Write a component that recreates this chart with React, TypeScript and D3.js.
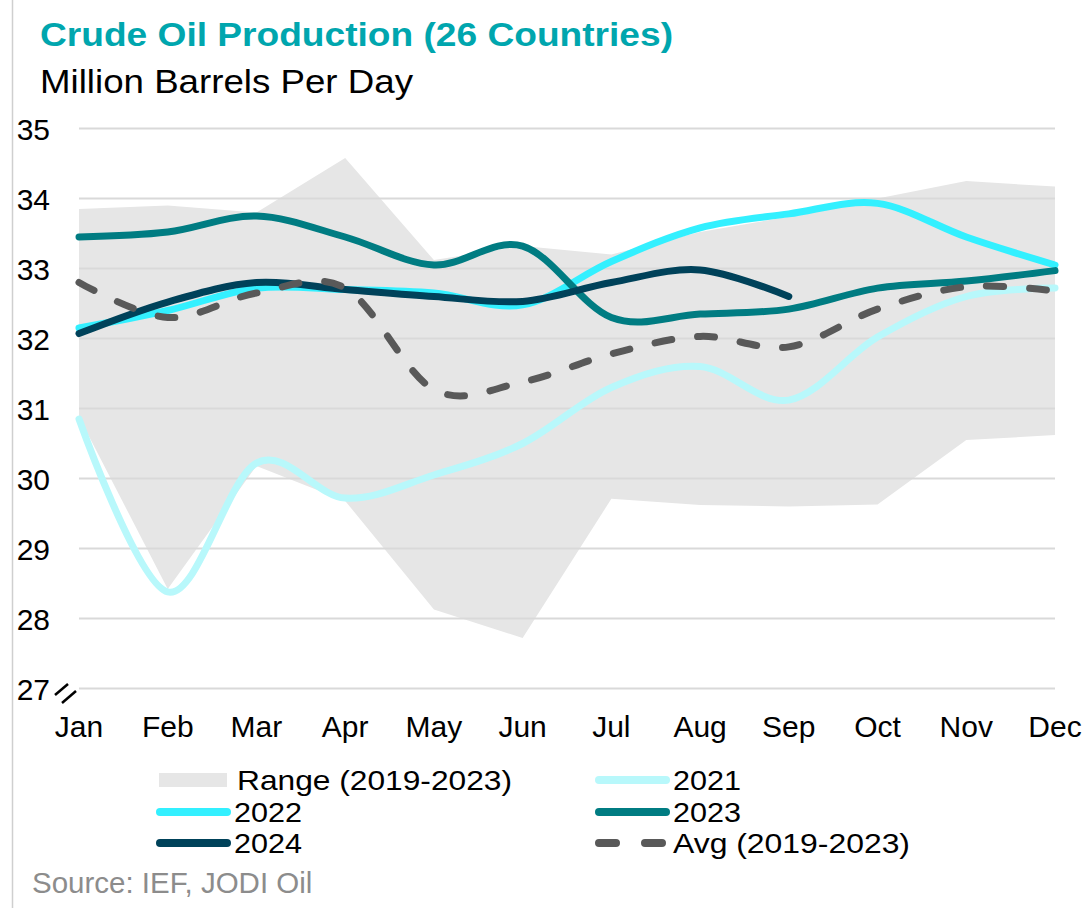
import React from 'react';
import * as d3 from 'd3';

const months = ['Jan', 'Feb', 'Mar', 'Apr', 'May', 'Jun', 'Jul', 'Aug', 'Sep', 'Oct', 'Nov', 'Dec'];
const yTicks = [27, 28, 29, 30, 31, 32, 33, 34, 35];

// range (2019-2023)
const rangeHigh = [33.85, 33.9, 33.8, 34.58, 33.12, 33.32, 33.2, 33.52, 33.74, 34.0, 34.25, 34.17];
const rangeLow = [30.88, 28.42, 30.18, 29.68, 28.13, 27.72, 29.71, 29.62, 29.6, 29.63, 30.55, 30.62];

const y2021 = [30.85, 28.38, 30.22, 29.72, 30.05, 30.5, 31.3, 31.6, 31.12, 32.02, 32.6, 32.72];
const y2022 = [32.15, 32.4, 32.72, 32.7, 32.65, 32.48, 33.1, 33.58, 33.78, 33.93, 33.45, 33.05];
const y2023 = [33.45, 33.52, 33.75, 33.45, 33.05, 33.32, 32.3, 32.35, 32.42, 32.72, 32.82, 32.97];
const y2024 = [32.07, 32.52, 32.8, 32.7, 32.6, 32.53, 32.8, 32.98, 32.6];
const avg = [32.8, 32.3, 32.65, 32.72, 31.27, 31.38, 31.78, 32.03, 31.88, 32.42, 32.74, 32.68];

const font = '"Liberation Sans", Arial, sans-serif';

const series = [
  { name: '2021', values: y2021, color: '#B8F8FB', dash: null },
  { name: '2022', values: y2022, color: '#33F0FF', dash: null },
  { name: '2023', values: y2023, color: '#007C82', dash: null },
  { name: '2024', values: y2024, color: '#00425A', dash: null },
  { name: 'Avg (2019-2023)', values: avg, color: '#595959', dash: '17,26' },
];

export default function App() {
  const x = d3.scalePoint<string>().domain(months).range([79, 1055]);
  const y = d3.scaleLinear().domain([27, 35]).range([688.5, 128.5]);

  const area = d3.area<number>()
    .x((d, i) => x(months[i]) as number)
    .y0((d, i) => y(rangeLow[i]))
    .y1((d) => y(d));

  const line = d3.line<number>()
    .x((d, i) => x(months[i]) as number)
    .y((d) => y(d))
    .curve(d3.curveCardinal);

  // legend: text widths
  const legend = [
    { label: 'Range (2019-2023)', kind: 'rect', color: '#E6E6E6', lx: 159, ly: 780, w: 275 },
    { label: '2021', kind: 'line', color: '#B8F8FB', lx: 599, ly: 780, w: 68 },
    { label: '2022', kind: 'line', color: '#33F0FF', lx: 160, ly: 812, w: 68 },
    { label: '2023', kind: 'line', color: '#007C82', lx: 599, ly: 812, w: 68 },
    { label: '2024', kind: 'line', color: '#00425A', lx: 160, ly: 843, w: 68 },
    { label: 'Avg (2019-2023)', kind: 'dash', color: '#595959', lx: 599, ly: 843, w: 237 },
  ];

  return (
    <svg width={1089} height={908} style={{ position: 'absolute', left: 0, top: 0, background: '#fff' }} fontFamily={font}>
      <line x1={12.5} x2={12.5} y1={0} y2={908} stroke="#CFCFCF" strokeWidth={1.5} />

      <text x={40} y={46} fontSize={34} fontWeight="bold" fill="#00A6AE" textLength={633} lengthAdjust="spacingAndGlyphs">
        Crude Oil Production (26 Countries)
      </text>
      <text x={40} y={93} fontSize={33} fill="#000" textLength={373} lengthAdjust="spacingAndGlyphs">
        Million Barrels Per Day
      </text>

      {/* range band */}
      <path d={area(rangeHigh) || ''} fill="#E6E6E6" />

      {/* grid */}
      {yTicks.map((t) => (
        <g key={t}>
          <line x1={79} x2={1055} y1={y(t)} y2={y(t)} stroke="#D9D9D9" strokeWidth={2} />
          <text x={50} y={y(t) + 11} fontSize={30} textAnchor="end" fill="#000">{t}</text>
        </g>
      ))}

      {/* axis break */}
      <line x1={55} y1={695} x2={68} y2={684} stroke="#000" strokeWidth={2.5} />
      <line x1={62} y1={703} x2={76} y2={691} stroke="#000" strokeWidth={2.5} />

      {months.map((m) => (
        <text key={m} x={x(m)} y={737} fontSize={30} textAnchor="middle" fill="#000">{m}</text>
      ))}

      {series.map((s) => (
        <path key={s.name} d={line(s.values) || ''} fill="none" stroke={s.color} strokeWidth={7}
          strokeLinecap="round" strokeLinejoin="round" strokeDasharray={s.dash || undefined} />
      ))}

      {/* legend */}
      {legend.map((l) => (
        <g key={l.label}>
          {l.kind === 'rect' && <rect x={l.lx} y={l.ly - 7} width={68} height={14} fill={l.color} />}
          {l.kind === 'line' && <line x1={l.lx} x2={l.lx + 67} y1={l.ly} y2={l.ly} stroke={l.color} strokeWidth={8} strokeLinecap="round" />}
          {l.kind === 'dash' && <line x1={l.lx} x2={l.lx + 63} y1={l.ly} y2={l.ly} stroke={l.color} strokeWidth={8} strokeLinecap="round" strokeDasharray="17,29" />}
          <text x={l.kind === 'rect' ? 237 : l.lx + 74} y={l.ly + 10} fontSize={28.5} fill="#000"
            textLength={l.w} lengthAdjust="spacingAndGlyphs">{l.label}</text>
        </g>
      ))}

      <text x={32} y={893} fontSize={29.5} fill="#8C8C8C">Source: IEF, JODI Oil</text>
    </svg>
  );
}
